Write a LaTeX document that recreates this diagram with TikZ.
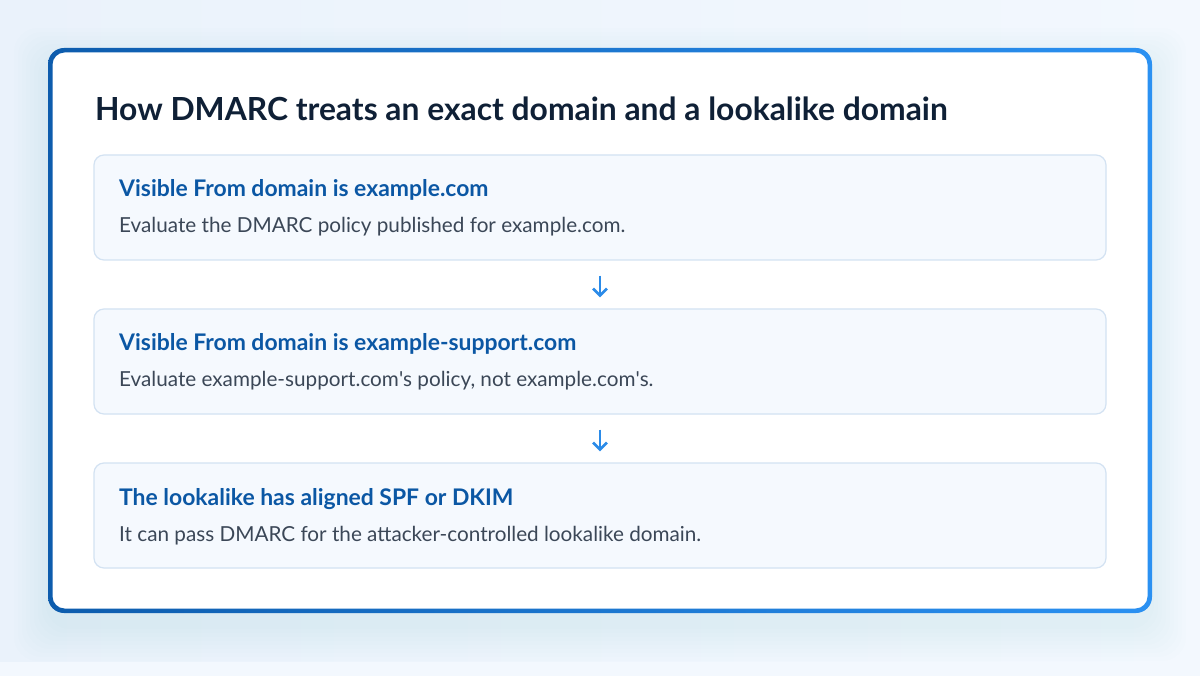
\documentclass[tikz,border=0pt]{standalone}
\usepackage{fontspec}
\setmainfont{Lato}
\usetikzlibrary{arrows.meta}
\definecolor{bgA}{HTML}{EAF2FB}
\definecolor{bgB}{HTML}{F3F8FE}
\definecolor{frameL}{HTML}{0D5CAD}
\definecolor{frameR}{HTML}{2B91F2}
\definecolor{titlec}{HTML}{0F2036}
\definecolor{headc}{HTML}{0B57A4}
\definecolor{bodyc}{HTML}{3B4757}
\definecolor{boxfill}{HTML}{F5F9FE}
\definecolor{boxline}{HTML}{D3E2F2}
\definecolor{arrowc}{HTML}{2B8BE8}
\tikzset{
  stepbox/.style={draw=boxline, line width=1.2pt, fill=boxfill, rounded corners=10pt,
    minimum width=1012pt, minimum height=105pt, inner sep=0pt},
  headtxt/.style={anchor=base west, inner sep=0pt, text=headc,
    font=\fontsize{22.9}{27}\selectfont\bfseries},
  bodytxt/.style={anchor=base west, inner sep=0pt, text=bodyc,
    font=\fontsize{20.7}{25}\selectfont},
  flowarrow/.style={draw=arrowc, line width=2.6pt,
    -{Straight Barb[length=7pt,width=14pt,line width=2.6pt]},
    shorten <=15pt, shorten >=11pt}
}
\begin{document}
\begin{tikzpicture}[x=1pt,y=-1pt]
\useasboundingbox (0,0) rectangle (1200,676);
% background
\shade[left color=bgA, right color=bgB] (0,0) rectangle (1200,676);
\fill[bgB] (0,662) rectangle (1200,676);
% soft shadow
\foreach \s in {36,32,28,24,20,16,12,8,4}{
  \fill[frameR, opacity=0.006, rounded corners=24pt] (50-\s,50-\s+14) rectangle (1150+\s,611+\s+14);
}
% card
\fill[white, rounded corners=14pt] (50,50) rectangle (1150,611);
\shade[left color=frameL, right color=frameR, even odd rule]
  [rounded corners=16pt] (48,48) rectangle (1152,613)
  [rounded corners=12pt] (52.5,52.5) rectangle (1147.5,608.5);
% title
\node[anchor=base west, inner sep=0pt, text=titlec, font=\fontsize{31.8}{38}\selectfont\bfseries]
  (title) at (95,121) {How DMARC treats an exact domain and a lookalike domain};
% boxes
\node[stepbox] (b1) at (600,207.5) {};
\node[stepbox] (b2) at (600,361.5) {};
\node[stepbox] (b3) at (600,515.5) {};
% texts
\node[headtxt] (h1) at (119,197) {Visible From domain is example.com};
\node[bodytxt] (t1) at (119,233) {Evaluate the DMARC policy published for example.com.};
\node[headtxt] (h2) at (119,351) {Visible From domain is example-support.com};
\node[bodytxt] (t2) at (119,387) {Evaluate example-support.com\textquotesingle s policy, not example.com\textquotesingle s.};
\node[headtxt] (h3) at (119,505) {The lookalike has aligned SPF or DKIM};
\node[bodytxt] (t3) at (119,541) {It can pass DMARC for the attacker-controlled lookalike domain.};
% arrows
\draw[flowarrow] (b1.south) -- (b2.north);
\draw[flowarrow] (b2.south) -- (b3.north);
\end{tikzpicture}
\end{document}
